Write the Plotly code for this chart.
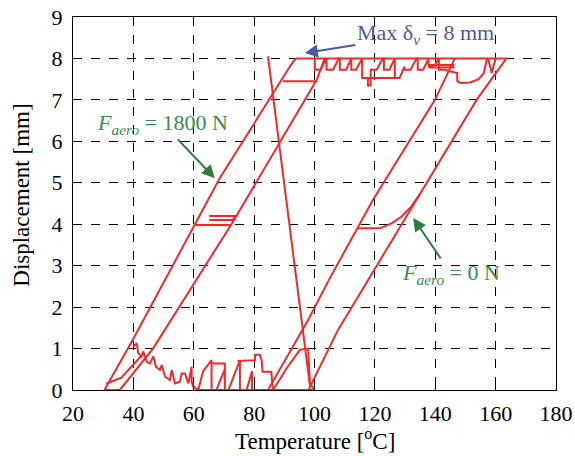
import plotly.graph_objects as go

# ---------------- data (temperature in degC, displacement in mm) ----------------
# Loop at F_aero = 1800 N
l1_left_T = [30.4, 39.5, 60.4, 68.7, 91.9, 93.8]
l1_left_D = [0.0, 1.17, 4.0, 5.12, 7.81, 8.0]
l1_right_T = [103.4, 100.8, 72.5, 46.5, 35.5, 30.4]
l1_right_D = [8.0, 7.49, 4.0, 1.0, 0.0, 0.0]
l1_mid_T = [60.4, 72.2]
l1_mid_D = [3.98, 3.98]
l1_mid2_T = [65.1, 73.9, 72.9, 65.1]
l1_mid2_D = [4.2, 4.2, 4.1, 4.1]
l1_top_T = [89.5, 100.8]
l1_top_D = [7.45, 7.45]
l1_small_T = [31.0, 36.0, 43.0]
l1_small_D = [0.15, 0.3, 0.85]

# Steep return line
steep_T = [84.6, 98.5]
steep_D = [8.05, 0.1]

# Loop at F_aero = 0 N
l2_left_T = [84.6, 97.9, 105.1, 119.4, 139.9, 146.5]
l2_left_D = [0.0, 1.69, 2.7, 4.59, 7.0, 8.0]
l2_right_T = [163.6, 153.7, 133.8, 107.8, 98.0]
l2_right_D = [8.0, 7.0, 4.59, 1.45, 0.0]
l2_mid_T = [114.2, 121.7, 125.5, 128.8, 132.1, 134.9]
l2_mid_D = [3.9, 3.9, 4.02, 4.18, 4.43, 4.72]

# Plateau at max displacement
plateau_T = [93.8, 163.6]
plateau_D = [8.0, 8.0]

# Jagged region near the top
top_saw_T = [100.1, 100.1, 102.0, 104.0, 104.0, 106.2, 108.0, 108.4, 108.4, 110.5,
             112.2, 112.2, 113.8, 115.8, 115.8, 117.7, 117.7, 118.6, 118.6, 120.6,
             122.6, 123.0, 123.0, 124.8, 126.6, 126.6, 128.2, 129.8, 129.8, 131.8,
             133.8, 134.2, 134.2, 136.0, 137.8, 137.8, 139.6, 141.2, 141.2, 143.0, 144.8]
top_saw_D = [8.0, 7.73, 7.73, 8.0, 7.73, 7.73, 8.0, 8.0, 7.73, 7.73,
             8.0, 7.73, 7.73, 8.0, 7.53, 7.53, 7.35, 7.35, 7.73, 7.73,
             8.0, 8.0, 7.73, 7.73, 8.0, 7.53, 7.53, 7.8, 7.73, 7.73,
             8.0, 8.0, 7.73, 7.73, 8.0, 7.82, 7.82, 8.0, 7.73, 7.73, 7.69]
top_low_T = [115.8, 126.6]
top_low_D = [7.53, 7.53]
top_dbl_T = [137.8, 146.0, 146.0, 137.8]
top_dbl_D = [7.78, 7.78, 7.84, 7.84]
top_dip_T = [144.8, 147.3, 147.3, 148.3, 151.6, 154.4, 156.1, 157.0, 157.5, 158.7, 160.0]
top_dip_D = [7.69, 7.65, 7.45, 7.41, 7.42, 7.5, 7.65, 7.95, 8.0, 7.65, 8.0]

# Jagged region near the bottom
bot_saw_T = [40.0, 41.1, 41.6, 42.7, 43.3, 44.4, 45.5, 46.6, 47.5, 48.8, 49.4, 50.5,
             52.1, 52.7, 53.8, 55.4, 56.0, 57.1, 58.2, 59.3, 59.3, 59.8, 61.5]
bot_saw_D = [1.05, 1.13, 0.89, 0.81, 0.93, 0.68, 0.64, 0.81, 0.56, 0.48, 0.60, 0.32,
             0.24, 0.48, 0.16, 0.20, 0.40, 0.40, 0.16, 0.56, 0.2, 0.08, 0.0]
bot_base_T = [61.5, 100.0]
bot_base_D = [0.0, 0.0]
box1_T = [61.5, 63.1, 65.9, 65.9]
box1_D = [0.0, 0.45, 0.72, 0.0]
box2_T = [65.9, 70.3, 70.3]
box2_D = [0.64, 0.64, 0.0]
box3_T = [67.5, 70.3]
box3_D = [0.0, 0.5]
box4_T = [71.5, 75.3, 75.3]
box4_D = [0.0, 0.72, 0.0]
box5_T = [74.5, 80.3, 80.3, 81.9, 82.5, 82.8, 85.7, 86.2]
box5_D = [0.7, 0.72, 0.85, 0.85, 0.72, 0.44, 0.44, 0.0]
box6_T = [77.5, 79.3, 79.3]
box6_D = [0.0, 0.45, 0.0]
hump_T = [86.3, 91.0, 95.2, 97.9, 98.5, 100.0]
hump_D = [0.0, 0.55, 0.97, 1.0, 0.16, 0.0]

x_ticks = [20, 40, 60, 80, 100, 120, 140, 160, 180]
y_ticks = [0, 1, 2, 3, 4, 5, 6, 7, 8, 9]

segments = [
    (l1_left_T, l1_left_D), (l1_right_T, l1_right_D), (l1_mid_T, l1_mid_D),
    (l1_mid2_T, l1_mid2_D), (l1_top_T, l1_top_D), (l1_small_T, l1_small_D),
    (steep_T, steep_D), (l2_left_T, l2_left_D), (l2_right_T, l2_right_D),
    (l2_mid_T, l2_mid_D), (plateau_T, plateau_D), (top_saw_T, top_saw_D),
    (top_low_T, top_low_D), (top_dbl_T, top_dbl_D), (top_dip_T, top_dip_D),
    (bot_saw_T, bot_saw_D), (bot_base_T, bot_base_D), (box1_T, box1_D),
    (box2_T, box2_D), (box3_T, box3_D), (box4_T, box4_D), (box5_T, box5_D),
    (box6_T, box6_D), (hump_T, hump_D),
]

xs, ys = [], []
for t, d in segments:
    xs += list(t) + [None]
    ys += list(d) + [None]

RED = "#EE2A2A"
GREEN_T = "#3A8B4F"
GREEN_A = "#2E7A3C"
BLUE = "#4A59A7"
FONT = "Liberation Serif, Times New Roman, serif"

fig = go.Figure()
fig.add_trace(go.Scatter(x=xs, y=ys, mode="lines", line=dict(color=RED, width=2),
                         connectgaps=False, showlegend=False, hoverinfo="skip"))

axis_common = dict(showline=True, linecolor="black", linewidth=1, mirror=True,
                   ticks="inside", ticklen=5, tickcolor="black", automargin=False,
                   showgrid=True, gridcolor="black", gridwidth=1, griddash="dash",
                   zeroline=False, tickfont=dict(family=FONT, size=22, color="black"))

fig.update_xaxes(range=[20, 180], tickvals=x_ticks, ticklabelstandoff=4, **axis_common)
fig.update_yaxes(range=[0, 9], tickvals=y_ticks, ticklabelstandoff=5, **axis_common)

ann = [
    # axis titles
    dict(x=0.5, y=-0.133, xref="paper", yref="paper", showarrow=False,
         xanchor="center", yanchor="middle",
         text="Temperature [<sup>o</sup>C]", font=dict(family=FONT, size=23, color="black")),
    dict(x=-0.106, y=0.523, xref="paper", yref="paper", showarrow=False, textangle=-90,
         xanchor="center", yanchor="middle",
         text="Displacement [mm]", font=dict(family=FONT, size=23, color="black")),
    # labels with arrows (arrow drawn from the label to the curve)
    dict(x=67.0, y=5.11, ax=49.8, ay=6.42, xref="x", yref="y", axref="x", ayref="y",
         text="<i>F</i><sub><i>aero</i></sub> = 1800 N", showarrow=True,
         arrowhead=2, arrowsize=1.3, arrowwidth=2, arrowcolor=GREEN_A,
         font=dict(family=FONT, size=22, color=GREEN_T)),
    dict(x=132.7, y=4.15, ax=145.3, ay=2.8, xref="x", yref="y", axref="x", ayref="y",
         text="<i>F</i><sub><i>aero</i></sub> = 0 N", showarrow=True,
         arrowhead=2, arrowsize=1.3, arrowwidth=2, arrowcolor=GREEN_A,
         font=dict(family=FONT, size=22, color=GREEN_T)),
    dict(x=96.8, y=8.13, ax=136.7, ay=8.6, xref="x", yref="y", axref="x", ayref="y",
         text="Max δ<sub><i>v</i></sub> = 8 mm", showarrow=True,
         arrowhead=2, arrowsize=1.3, arrowwidth=2, arrowcolor=BLUE,
         font=dict(family=FONT, size=22, color=BLUE)),
]

fig.update_layout(width=575, height=456, margin=dict(l=73, r=19, t=17, b=66),
                  paper_bgcolor="white", plot_bgcolor="white", annotations=ann,
                  font=dict(family=FONT))

fig.write_html("out.html", config={"displayModeBar": False},
               post_script="document.body.style.margin='0';document.body.style.overflow='hidden';")
